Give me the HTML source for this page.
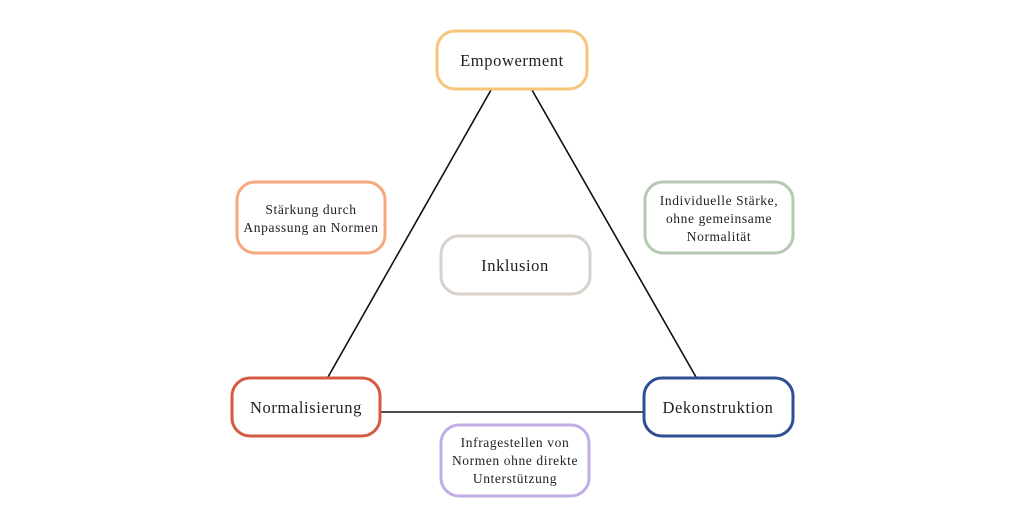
<!DOCTYPE html>
<html><head><style>body{margin:0;background:#fff}svg{display:block}text{font-family:"Liberation Serif",serif;fill:#222;text-anchor:middle}</style></head>
<body>
<svg width="1024" height="512" viewBox="0 0 1024 512">
<g stroke="#111" stroke-width="1.6">
<line x1="491" y1="90" x2="328" y2="377"/>
<line x1="532" y1="90" x2="696" y2="377"/>
<line x1="381" y1="412" x2="643" y2="412"/>
</g>
<g fill="#fff" stroke-width="3">
<rect x="437" y="31" width="150" height="58" rx="18" stroke="#f7c57a"/>
<rect x="237" y="182" width="148" height="71" rx="18" stroke="#f5a97c"/>
<rect x="441" y="236" width="149" height="58" rx="18" stroke="#d8d2cb"/>
<rect x="645" y="182" width="148" height="71" rx="18" stroke="#b5c9b2"/>
<rect x="232" y="378" width="148" height="58" rx="18" stroke="#d45a40"/>
<rect x="644" y="378" width="149" height="58" rx="18" stroke="#2f4f94"/>
<rect x="441" y="425" width="148" height="71" rx="18" stroke="#c2aee6"/>
</g>
<g font-size="16.5" letter-spacing="0.6">
<text x="512" y="66">Empowerment</text>
<text x="515" y="271">Inklusion</text>
<text x="306" y="413">Normalisierung</text>
<text x="718" y="413">Dekonstruktion</text>
</g>
<g font-size="13.5" letter-spacing="0.6">
<text x="311" y="214">Stärkung durch</text>
<text x="311" y="232">Anpassung an Normen</text>
<text x="719" y="205">Individuelle Stärke,</text>
<text x="719" y="223">ohne gemeinsame</text>
<text x="719" y="241">Normalität</text>
<text x="515" y="447">Infragestellen von</text>
<text x="515" y="465">Normen ohne direkte</text>
<text x="515" y="483">Unterstützung</text>
</g>
</svg>
</body></html>
